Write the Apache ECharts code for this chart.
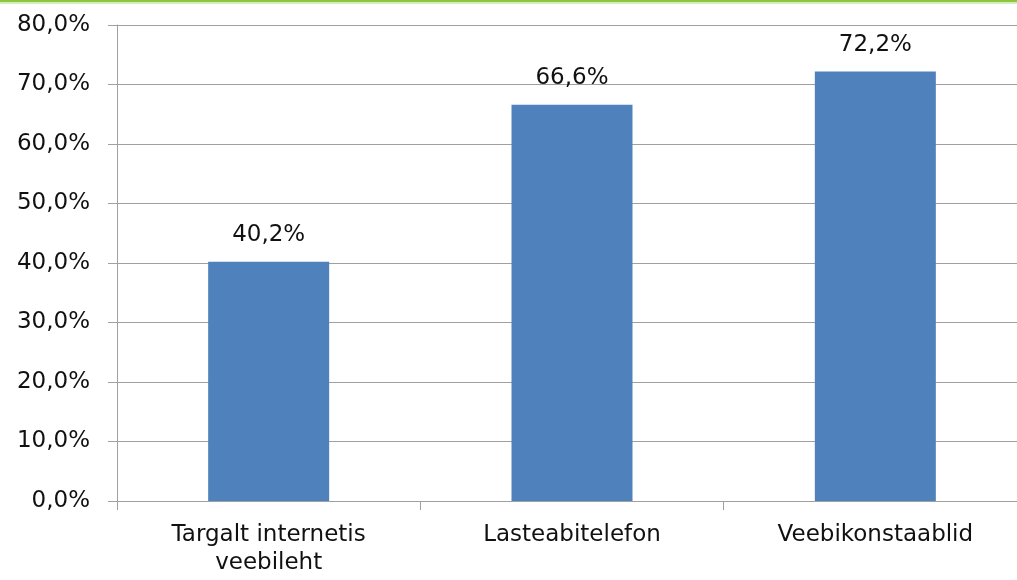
<!DOCTYPE html>
<html><head><meta charset="utf-8">
<script src="https://cdn.jsdelivr.net/npm/echarts@6/dist/echarts.min.js"></script>
<style>html,body{margin:0;padding:0;background:#fff;overflow:hidden;width:1017px;height:580px}#c{width:1030px;height:580px}</style>
</head><body><div id="c"></div>
<script>
const categories = ['Targalt internetis\nveebileht', 'Lasteabitelefon', 'Veebikonstaablid'];
const values = [40.2, 66.6, 72.2];
const yTicks = { min: 0, max: 80, interval: 10 };

const chart = echarts.init(document.getElementById('c'));
const font = 'DejaVu Sans';
const pct = v => v.toFixed(1).replace('.', ',') + '%';
chart.setOption({
  animation: false,
  graphic: [
    { type: 'rect', left: 0, top: 0, shape: { width: 1030, height: 2 }, style: { fill: '#8cc63f' } },
    { type: 'rect', left: 0, top: 2, shape: { width: 1030, height: 2 }, style: { fill: '#d6ecbc' } }
  ],
  grid: { left: 117, top: 25, right: 3, bottom: 79, containLabel: false },
  xAxis: {
    type: 'category', data: categories,
    axisLine: { show: true, lineStyle: { color: '#a0a0a0', width: 1 } },
    axisTick: { show: true, length: 9, lineStyle: { color: '#a0a0a0' } },
    axisLabel: { color: '#111', fontFamily: font, fontSize: 23, margin: 20, lineHeight: 28, interval: 0 }
  },
  yAxis: {
    type: 'value', min: yTicks.min, max: yTicks.max, interval: yTicks.interval,
    axisLine: { show: true, lineStyle: { color: '#a0a0a0', width: 1 } },
    axisTick: { show: true, length: 9, lineStyle: { color: '#a0a0a0' } },
    splitLine: { show: true, lineStyle: { color: '#a0a0a0', width: 1 } },
    axisLabel: { color: '#111', fontFamily: font, fontSize: 23, margin: 27, formatter: pct }
  },
  series: [{
    type: 'bar', data: values, barWidth: 121,
    itemStyle: { color: '#4f81bd' },
    label: { show: true, position: 'top', distance: 15, color: '#111', fontFamily: font, fontSize: 23,
      formatter: p => pct(p.value) }
  }]
});
</script></body></html>
